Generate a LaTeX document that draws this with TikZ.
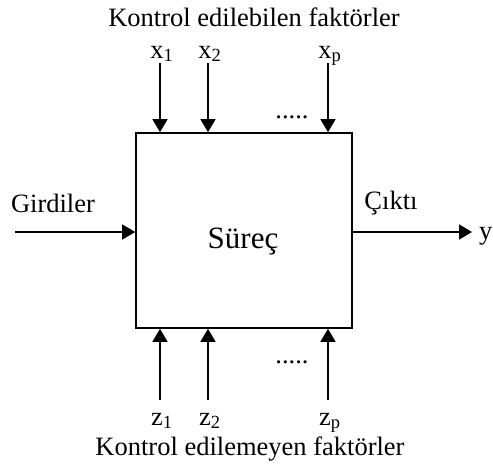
\documentclass[tikz,border=0pt]{standalone}
\usepackage{fontspec}
\setmainfont{Liberation Serif}
\usetikzlibrary{arrows.meta}
\begin{document}
\begin{tikzpicture}[x=1pt,y=-1pt,
  lbl/.style={inner sep=0pt,anchor=base,font=\fontsize{26.5}{29}\selectfont},
  arr/.style={line width=1.6pt,-{Triangle[length=13pt,width=15pt]}},
  box/.style={draw,line width=1.6pt,minimum width=216pt,minimum height=195pt,inner sep=0pt}]
\useasboundingbox (0,0) rectangle (493,466);
\node[box] (P) at (244,230.5) {};
\node[inner sep=0pt,anchor=base,font=\fontsize{31}{34}\selectfont] (S) at (243,248) {Süreç};
\node[lbl] (Tt) at (254,26) {Kontrol edilebilen faktörler};
\node[lbl] (Tb) at (250,455) {Kontrol edilemeyen faktörler};
\node[lbl] (x1) at (162,58) {x\textsubscript{1}};
\node[lbl] (x2) at (210,58) {x\textsubscript{2}};
\node[lbl] (xp) at (330,58) {x\textsubscript{p}};
\node[lbl] (z1) at (162,425) {z\textsubscript{1}};
\node[lbl] (z2) at (210,425) {z\textsubscript{2}};
\node[lbl] (zp) at (330,425) {z\textsubscript{p}};
\coordinate (x1s) at (160,63);
\coordinate (x2s) at (208,63);
\coordinate (xps) at (328,63);
\coordinate (z1s) at (160,400);
\coordinate (z2s) at (208,400);
\coordinate (zps) at (328,400);
\draw[arr] (x1s) -- (x1s |- P.north);
\draw[arr] (x2s) -- (x2s |- P.north);
\draw[arr] (xps) -- (xps |- P.north);
\draw[arr] (z1s) -- (z1s |- P.south);
\draw[arr] (z2s) -- (z2s |- P.south);
\draw[arr] (zps) -- (zps |- P.south);
\node[lbl] (d1) at (292,118) {.....};
\node[lbl] (d2) at (292,363) {.....};
\node[lbl] (G) at (53,212) {Girdiler};
\node[lbl] (C) at (391,209) {Çıktı};
\node[lbl,anchor=base west] (y) at (479,239) {y};
\coordinate (in) at (15,232);
\coordinate (out) at (472,232);
\draw[arr] (in) -- (in -| P.west);
\draw[arr] (P.east |- out) -- (out);
\end{tikzpicture}
\end{document}
